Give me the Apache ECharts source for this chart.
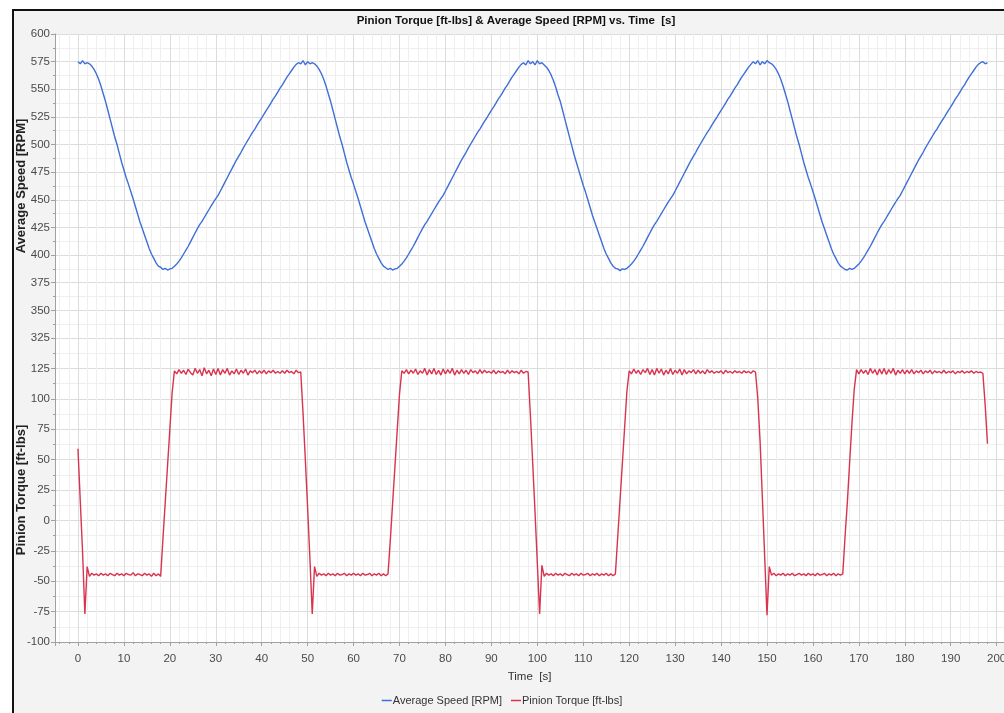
<!DOCTYPE html>
<html>
<head>
<meta charset="utf-8">
<script src="https://cdn.jsdelivr.net/npm/echarts@6/dist/echarts.min.js"></script>
<style>
  html, body { margin: 0; padding: 0; background: #ffffff; width: 1004px; height: 713px; overflow: hidden; }
  #frame { position: absolute; left: 12px; top: 9px; width: 992px; height: 704px; background: #f3f3f3;
           border-left: 2px solid #111; border-top: 2px solid #111; }
  #chart { position: absolute; left: 0; top: 0; width: 1004px; height: 713px; }
</style>
</head>
<body>
<div id="frame"></div>
<div id="chart"></div>
<script>
// ---------------- DATA ----------------
const chartTitle = 'Pinion Torque [ft-lbs] & Average Speed [RPM] vs. Time  [s]';
const speedName = 'Average Speed [RPM]';
const torqueName = 'Pinion Torque [ft-lbs]';
const timeName = 'Time  [s]';

// samples every 0.5 s starting at t = 0 s
const sampleStart = 0;
const sampleStep = 0.5;

// Average Speed [RPM], one row = 5 s
const speedRpm = [
  575, 573, 576, 573, 574, 573, 571, 568, 564, 559,        // 0
  553, 546, 539, 531, 523, 515, 507, 500, 492, 484,        // 5
  477, 470, 464, 457.5, 451, 444, 437, 430, 424, 418,      // 10
  412, 406, 401, 397, 393, 390, 389, 387, 388, 386.5,      // 15
  387.5, 388, 390, 392, 394.5, 397.5, 401, 404.5, 408, 412,// 20
  416, 420, 424, 427.5, 430.5, 434, 437.5, 441, 444.5, 448,// 25
  451, 454, 458, 462, 466, 470, 474, 478, 482, 486,        // 30
  489.5, 493, 497, 500.5, 504, 507.5, 511, 514, 517.5, 521,// 35
  524, 527.5, 531, 534, 537.5, 541, 544, 547.5, 551, 554,  // 40
  557.5, 561, 564, 567, 570, 572.5, 574, 573, 576, 572,    // 45
  575, 573, 574, 573, 571, 568, 564, 559, 553, 546,        // 50
  539, 531, 523, 515, 507, 500, 492, 484, 477, 470,        // 55
  464, 457.5, 451, 444, 437, 430, 424, 418, 412, 406,      // 60
  401, 397, 393, 390, 388.5, 387, 388, 386.5, 387.5, 388,  // 65
  390, 392, 394.5, 397.5, 401, 404.5, 408, 412, 416, 420,  // 70
  424, 427.5, 430.5, 434, 437.5, 441, 444.5, 448, 451, 454,// 75
  458, 462, 466, 470, 474, 478, 482, 486, 489.5, 493,      // 80
  497, 500.5, 504, 507.5, 511, 514, 517.5, 521, 524, 527.5,// 85
  531, 534, 537.5, 541, 544, 547.5, 551, 554, 557.5, 561,  // 90
  564, 567, 570, 572.5, 574, 572, 576, 573, 575, 572,      // 95
  576, 573, 574, 572, 570, 567, 563, 558, 552, 545,        // 100
  539, 531, 523, 515, 507, 499, 491, 484, 477, 470,        // 105
  463, 457, 450, 443, 436, 430, 424, 418, 412, 406,        // 110
  401, 397, 393, 390, 388, 387.5, 386, 387.5, 387, 388,    // 115
  390, 392, 394.5, 397.5, 401, 404.5, 408, 412, 416, 420,  // 120
  424, 427.5, 430.5, 434, 437.5, 441, 444.5, 448, 451, 454,// 125
  458, 462, 466, 470, 474, 478, 482, 486, 489.5, 493,      // 130
  497, 500.5, 504, 507.5, 511, 514, 517.5, 521, 524, 527.5,// 135
  531, 534, 537.5, 541, 544, 547.5, 551, 554, 557.5, 561,  // 140
  564, 567, 570, 572.5, 575, 573, 576, 572, 575, 573,      // 145
  576, 574, 573, 571, 568, 564, 559, 553, 546, 539,        // 150
  531, 523, 515, 507, 500, 492, 484, 477, 470, 464,        // 155
  457.5, 451, 444, 437, 430, 424, 418, 412, 406, 401,      // 160
  397, 393, 390, 388.5, 387, 386.5, 388, 387, 388, 390,    // 165
  392, 394.5, 397.5, 401, 404.5, 408, 412, 416, 420, 424,  // 170
  427.5, 430.5, 434, 437.5, 441, 444.5, 448, 451, 454, 458,// 175
  462, 466, 470, 474, 478, 482, 486, 489.5, 493, 497,      // 180
  500.5, 504, 507.5, 511, 514, 517.5, 521, 524, 527.5, 531,// 185
  534, 537.5, 541, 544, 547.5, 551, 554, 557.5, 561, 564,  // 190
  567, 570, 572.5, 574, 575, 573, 574                      // 195
];

// Pinion Torque [ft-lbs], one row = 5 s
const torqueFtLbs = [
  59, 16, -26, -77, -38, -46, -43.5, -45, -44, -45.5,              // 0
  -43.5, -45, -44, -45.5, -43.5, -44.5, -45.5, -43.5, -45, -44,    // 5
  -45.5, -43.5, -44.5, -45, -43, -45.5, -44, -44.5, -45.5, -43.5,  // 10
  -45, -44, -46, -43.5, -45.5, -44, -46, -15, 15, 45,              // 15
  75, 105, 123, 120.5, 124, 121, 123.5, 120, 124.5, 121.5,         // 20
  119.5, 125, 121, 124, 119, 125.5, 120.5, 123.5, 119, 124.5,      // 25
  120, 125, 119.5, 124, 121, 125, 119.5, 123, 120.5, 124.5,        // 30
  120, 123.5, 121, 124.5, 119.5, 123, 121.5, 123.5, 120.5, 123,    // 35
  121, 123.5, 120.5, 123, 121.5, 123.5, 121, 122.5, 121, 123,      // 40
  121, 123.5, 121.5, 122.5, 120.5, 123.5, 121.5, 122, 88, 50,      // 45
  10, -32, -77, -38, -46, -43.5, -45, -44, -45.5, -43.5,           // 50
  -45, -44, -45.5, -43.5, -45, -44.5, -43.5, -45.5, -44, -45,      // 55
  -43.5, -45, -44, -45.5, -43.5, -45, -44.5, -43.5, -45.5, -44,    // 60
  -45, -43.5, -45.5, -44, -45.5, -44, -16, 14, 44, 74,             // 65
  104, 123, 121, 124, 120.5, 123.5, 121, 124.5, 120, 123,          // 70
  121, 125, 119.5, 124, 120.5, 125, 120, 123.5, 119.5, 124.5,      // 75
  120.5, 124, 121, 125, 119.5, 123.5, 120.5, 124, 121, 123.5,      // 80
  120, 124, 121.5, 123, 120.5, 124, 121, 123.5, 121.5, 122.5,      // 85
  121, 123.5, 120.5, 123, 121.5, 122.5, 120.5, 123.5, 121, 123,    // 90
  121.5, 122.5, 120.5, 123.5, 121, 122.5, 122, 86, 47, 7,          // 95
  -35, -77, -37, -46, -43.5, -45, -44, -45.5, -43.5, -45,          // 100
  -44, -45.5, -43.5, -44.5, -45.5, -43.5, -45, -44, -45.5, -43.5,  // 105
  -45, -44.5, -43.5, -45.5, -44, -45, -43.5, -45.5, -44, -45,      // 110
  -43.5, -45.5, -44, -45.5, -44, -14, 16, 46, 76, 106,             // 115
  123, 120.5, 124.5, 121, 123.5, 120, 124, 121.5, 125, 120,        // 120
  124, 119.5, 125, 121, 124.5, 119.5, 123.5, 120.5, 125, 120,      // 125
  123.5, 121, 124.5, 119.5, 124, 120.5, 123, 121.5, 124, 120.5,    // 130
  123.5, 121, 123, 120.5, 124, 121.5, 123, 121, 122.5, 121.5,      // 135
  123, 120.5, 123.5, 121.5, 122.5, 121, 123, 121.5, 122.5, 121,    // 140
  123, 121.5, 122.5, 121, 123, 122, 100, 65, 18, -30,              // 145
  -78, -38, -45, -43.5, -45.5, -44, -45, -43.5, -45.5, -44,        // 150
  -45, -43.5, -45.5, -44.5, -43.5, -45, -44, -45.5, -43.5, -45,    // 155
  -44, -45.5, -43.5, -45, -44.5, -43.5, -45.5, -44, -45, -43.5,    // 160
  -45.5, -44, -45, -44, -13, 15, 48, 80, 108, 124,                 // 165
  120.5, 124, 121, 123.5, 120, 125, 121, 124, 119.5, 124.5,        // 170
  120.5, 125, 120, 124, 121, 125, 119.5, 123.5, 121, 124,          // 175
  120.5, 123.5, 121, 124, 120.5, 123, 121.5, 123.5, 120.5, 123,    // 180
  121.5, 123.5, 120.5, 123, 121.5, 122.5, 121, 123.5, 121, 122.5,  // 185
  121.5, 123, 120.5, 122.5, 121.5, 123, 121, 122.5, 121.5, 123,    // 190
  121, 122.5, 121.5, 122, 121, 95, 63                              // 195
];

// axis ranges / ticks
const timeRange = [-5, 201.6];
const speedRange = [325, 600];
const torqueRange = [-100, 150];
const yTickStep = 25;

// ---------------- CHART ----------------
const FONT = "'Liberation Sans', Arial, sans-serif";
const speedColor = '#3f6fd6';
const torqueColor = '#d9334f';
const gridColor = '#dcdcdc';
const minorGridColor = '#efefef';
const axisColor = '#a0a0a0';
const labelColor = '#4a4a4a';

const toPairs = vals => vals.map((v, i) => [sampleStart + i * sampleStep, v]);

function xAxisCfg(gridIndex, showLabels) {
  return {
    type: 'value', gridIndex,
    min: timeRange[0], max: timeRange[1], splitNumber: 20,
    axisLine: { show: showLabels, onZero: false, lineStyle: { color: axisColor, width: 1 } },
    axisTick: { show: showLabels, length: 4, lineStyle: { color: axisColor } },
    minorTick: { show: showLabels, splitNumber: 5, length: 2, lineStyle: { color: axisColor } },
    axisLabel: { show: showLabels, showMinLabel: false, showMaxLabel: false, margin: 11,
                 color: labelColor, fontSize: 11.5, fontFamily: FONT },
    splitLine: { show: true, lineStyle: { color: gridColor, width: 1 } },
    minorSplitLine: { show: true, lineStyle: { color: minorGridColor, width: 1 } },
    name: showLabels ? timeName : '',
    nameLocation: 'middle', nameGap: 29, nameMoveOverlap: false,
    nameTextStyle: { color: '#333', fontSize: 11.5, fontFamily: FONT }
  };
}

function yAxisCfg(gridIndex, range, name, hideTop) {
  return {
    type: 'value', gridIndex,
    min: range[0], max: range[1], interval: yTickStep,
    axisLine: { show: true, onZero: false, lineStyle: { color: axisColor, width: 1 } },
    axisTick: { show: true, length: 4, lineStyle: { color: axisColor } },
    minorTick: { show: true, splitNumber: 2, length: 2, lineStyle: { color: axisColor } },
    axisLabel: { margin: 5, color: labelColor, fontSize: 11.5, fontFamily: FONT,
                 formatter: v => (hideTop && v === range[1]) ? '' : String(v) },
    splitLine: { show: true, lineStyle: { color: gridColor, width: 1 } },
    minorSplitLine: { show: true, lineStyle: { color: minorGridColor, width: 1 } },
    name, nameLocation: 'middle', nameGap: 27, nameMoveOverlap: false,
    nameTextStyle: { color: '#222', fontSize: 13, fontWeight: 'bold', fontFamily: FONT }
  };
}

const chart = echarts.init(document.getElementById('chart'), null, { renderer: 'canvas' });
chart.setOption({
  animation: false,
  backgroundColor: 'transparent',
  title: {
    text: chartTitle, left: 511, top: 10, textAlign: 'center',
    textStyle: { fontSize: 11.5, fontWeight: 'bold', color: '#111', fontFamily: FONT }
  },
  legend: {
    data: [speedName, torqueName], left: 'center', top: 690,
    icon: 'rect', itemWidth: 10, itemHeight: 1.5, itemGap: 9,
    textStyle: { fontSize: 11, color: '#333', fontFamily: FONT, padding: [0, 0, 0, -4] }
  },
  grid: [
    { left: 55, right: 0, top: 34, height: 304, show: true, backgroundColor: '#ffffff', borderWidth: 0,
      outerBoundsMode: 'none', containLabel: false },
    { left: 55, right: 0, top: 338, height: 304, show: true, backgroundColor: '#ffffff', borderWidth: 0,
      outerBoundsMode: 'none', containLabel: false }
  ],
  xAxis: [ xAxisCfg(0, false), xAxisCfg(1, true) ],
  yAxis: [ yAxisCfg(0, speedRange, speedName, false), yAxisCfg(1, torqueRange, torqueName, true) ],
  series: [
    { name: speedName, type: 'line', xAxisIndex: 0, yAxisIndex: 0, data: toPairs(speedRpm),
      showSymbol: false, lineStyle: { color: speedColor, width: 1.4 }, itemStyle: { color: speedColor } },
    { name: torqueName, type: 'line', xAxisIndex: 1, yAxisIndex: 1, data: toPairs(torqueFtLbs),
      showSymbol: false, lineStyle: { color: torqueColor, width: 1.4 }, itemStyle: { color: torqueColor } }
  ]
});
</script>
</body>
</html>
